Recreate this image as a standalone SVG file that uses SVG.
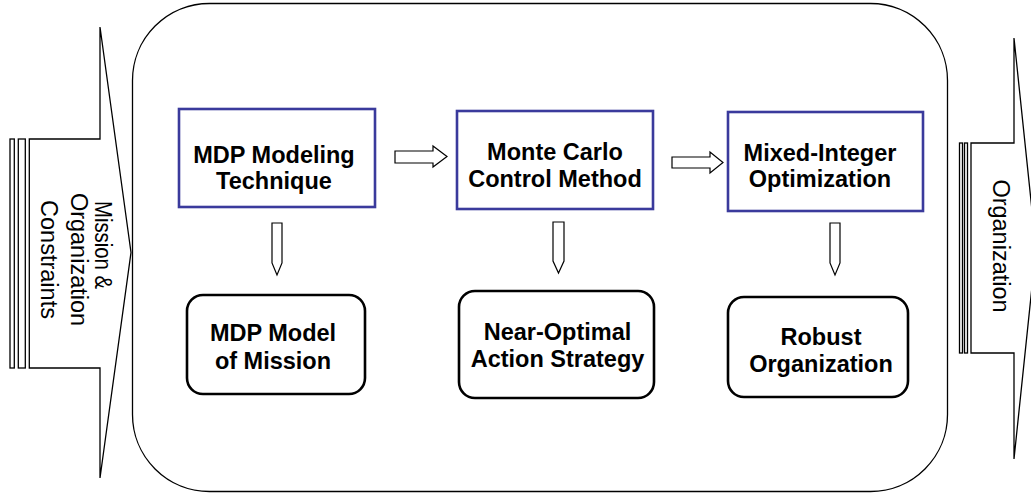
<svg xmlns="http://www.w3.org/2000/svg" width="1031" height="496" viewBox="0 0 1031 496">
<style>
.ln{fill:#fff;stroke:#000;stroke-width:1.3;stroke-linejoin:miter}
.blk{fill:#fff;stroke:#000;stroke-width:1.2}
.proc{fill:#fff;stroke:#3a3a9c;stroke-width:2.6}
.res{fill:#fff;stroke:#000;stroke-width:2.6}
.t{font-family:"Liberation Sans",Arial,sans-serif;font-weight:bold;font-size:23.5px;text-anchor:middle;fill:#000}
.s{font-family:"Liberation Sans",Arial,sans-serif;font-size:23.5px;text-anchor:middle;fill:#000}
</style>
<rect x="0" y="0" width="1031" height="496" fill="#fff"/>
<g id="container">
<rect class="ln" x="132.5" y="3.5" width="815" height="488" rx="77" ry="77"/>
</g>
<g id="input">
<rect class="ln" x="10" y="139" width="4.3" height="229"/>
<rect class="ln" x="18.3" y="139" width="7" height="229"/>
<path class="ln" d="M29.3,139 H100 V27 L131,252.5 L100,478 V368 H29.3 Z"/>
<text class="s" transform="translate(94.5,245) rotate(90)" textLength="88" lengthAdjust="spacingAndGlyphs">Mission &amp;</text>
<text class="s" transform="translate(71,259.5) rotate(90)">Organization</text>
<text class="s" transform="translate(40.5,259.5) rotate(90)">Constraints</text>
</g>
<g id="output">
<rect class="ln" x="959.5" y="143" width="3" height="210"/>
<rect class="ln" x="964.5" y="143" width="3" height="210"/>
<path class="ln" d="M971,143 H1014 V38 L1036,248.5 L1014,459 V353 H971 Z"/>
<text class="s" transform="translate(993,246) rotate(90)">Organization</text>
</g>
<g id="connectors">
<path class="blk" d="M395,151 H433 V146 L447,156.5 L433,167 V163 H395 Z"/>
<path class="blk" d="M672,157 H710 V152 L723,162.5 L710,173 V168 H672 Z"/>
<path class="blk" d="M272,223 H282 V263 L277,275 L272,263 Z"/>
<path class="blk" d="M553,222 H564 V261 L558.5,273 L553,261 Z"/>
<path class="blk" d="M830,223 H840 V263 L835,275 L830,263 Z"/>
</g>
<g id="mdp-modeling">
<rect class="proc" x="179" y="109" width="196" height="98"/>
<text class="t" x="274" y="162.5">MDP Modeling</text>
<text class="t" x="274" y="189">Technique</text>
</g>
<g id="monte-carlo">
<rect class="proc" x="457" y="111" width="196" height="98"/>
<text class="t" x="555" y="160">Monte Carlo</text>
<text class="t" x="555" y="187">Control Method</text>
</g>
<g id="mixed-integer">
<rect class="proc" x="728" y="112" width="195" height="99"/>
<text class="t" x="820" y="161">Mixed-Integer</text>
<text class="t" x="820" y="187">Optimization</text>
</g>
<g id="mdp-model">
<rect class="res" x="187" y="295" width="178" height="99" rx="16" ry="16"/>
<text class="t" x="273" y="341">MDP Model</text>
<text class="t" x="273" y="369">of Mission</text>
</g>
<g id="near-optimal">
<rect class="res" x="459" y="291" width="195" height="107" rx="16" ry="16"/>
<text class="t" x="557.5" y="340">Near-Optimal</text>
<text class="t" x="557.5" y="367">Action Strategy</text>
</g>
<g id="robust-org">
<rect class="res" x="728" y="297" width="180" height="100" rx="16" ry="16"/>
<text class="t" x="821" y="345">Robust</text>
<text class="t" x="821" y="372">Organization</text>
</g>
</svg>
